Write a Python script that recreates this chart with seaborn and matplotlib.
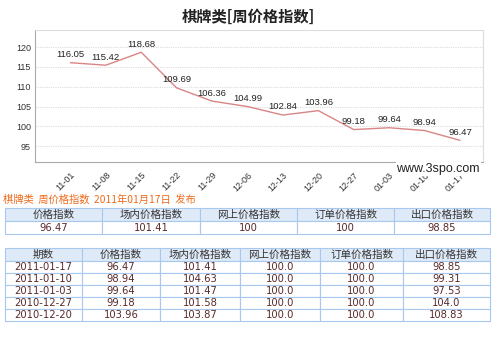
import matplotlib
matplotlib.use("Agg")
import matplotlib.pyplot as plt
import seaborn as sns
import pandas as pd
from matplotlib.patches import Rectangle

sns.set_theme(style="white")
plt.rcParams['font.family'] = ['DejaVu Sans', 'Noto Sans CJK SC']

# ---- data ----
weeks = ["11-01", "11-08", "11-15", "11-22", "11-29", "12-06", "12-13",
         "12-20", "12-27", "01-03", "01-10", "01-17"]
price_index = [116.05, 115.42, 118.68, 109.69, 106.36, 104.99, 102.84,
               103.96, 99.18, 99.64, 98.94, 96.47]
yticks = [95, 100, 105, 110, 115, 120]

title = "棋牌类[周价格指数]"
subtitle = "棋牌类  周价格指数  2011年01月17日  发布"

summary_headers = ["价格指数", "场内价格指数", "网上价格指数", "订单价格指数", "出口价格指数"]
summary_values = ["96.47", "101.41", "100", "100", "98.85"]

hist_headers = ["期数", "价格指数", "场内价格指数", "网上价格指数", "订单价格指数", "出口价格指数"]
hist_dates = ["2011-01-17", "2011-01-10", "2011-01-03", "2010-12-27", "2010-12-20"]
hist_price = ["96.47", "98.94", "99.64", "99.18", "103.96"]
hist_venue = ["101.41", "104.63", "101.47", "101.58", "103.87"]
hist_online = ["100.0", "100.0", "100.0", "100.0", "100.0"]
hist_order = ["100.0", "100.0", "100.0", "100.0", "100.0"]
hist_export = ["98.85", "99.31", "97.53", "104.0", "108.83"]

W, H = 500, 337
fig = plt.figure(figsize=(W / 100, H / 100), dpi=100)
fig.patch.set_facecolor("white")
arial = ['Liberation Sans', 'DejaVu Sans']

# ---- line chart ----
ax = fig.add_axes([35 / W, 1 - 162 / H, (483 - 35) / W, (162 - 30) / H])
df = pd.DataFrame({"x": range(len(weeks)), "y": price_index})
sns.lineplot(data=df, x="x", y="y", ax=ax, color="#d98585", linewidth=1.0)
for i, v in enumerate(price_index):
    ax.text(i, v + 0.9, f"{v:.2f}", ha="center", va="bottom", fontsize=6.8,
            color="#222222", family=arial)
ax.set_xlim(-1, 11.65)
ax.set_ylim(91, 124.3)
ax.set_yticks(yticks)
ax.set_xticks(range(len(weeks)))
ax.set_xticklabels(weeks, rotation=45, ha="right", rotation_mode="anchor")
ax.tick_params(axis="both", labelsize=6.5, colors="#333333", length=0, pad=3)
ax.tick_params(axis="x", pad=6)
for lab in ax.get_xticklabels() + ax.get_yticklabels():
    lab.set_family(arial)
ax.set_xlabel("")
ax.set_ylabel("")
for yt in yticks:
    ax.axhline(yt, color="#dddddd", linestyle=(0, (1, 1)), linewidth=0.8, zorder=0)
for sp in ax.spines.values():
    sp.set_color("#aaaaaa")
    sp.set_linewidth(0.8)
ax.spines["right"].set_color("#dddddd")
ax.spines["top"].set_color("#dddddd")

fig.text(248 / W, 1 - 17 / H, title, ha="center", va="center", fontsize=11,
         fontweight="heavy", color="#222222",
         family=['Noto Sans CJK SC', 'DejaVu Sans'])

# ---- overlay for watermark & tables ----
ov = fig.add_axes([0, 0, 1, 1], zorder=5)
ov.set_xlim(0, W)
ov.set_ylim(H, 0)
ov.axis("off")
ov.patch.set_alpha(0)

ov.text(480, 169, "www.3spo.com", ha="right", va="center", fontsize=9,
        color="#222222", family=arial,
        bbox=dict(facecolor="white", edgecolor="none", pad=0.5))

ov.text(3, 200, subtitle, ha="left", va="center", fontsize=7.4, color="#ee6a1a",
        family=['Noto Sans CJK SC', 'DejaVu Sans'])

border = "#a8c8ee"
head_bg = "#dfeaf8"
cell_txt = "#5a2a2a"
head_txt = "#333333"
cjk = ['DejaVu Sans', 'Noto Sans CJK SC']


def draw_table(xs, row_ys, rows):
    for r, row in enumerate(rows):
        y0, y1 = row_ys[r], row_ys[r + 1]
        for c, val in enumerate(row):
            x0, x1 = xs[c], xs[c + 1]
            ov.add_patch(Rectangle((x0, y0), x1 - x0, y1 - y0,
                                   facecolor=head_bg if r == 0 else "white",
                                   edgecolor=border, linewidth=0.8))
            ov.text((x0 + x1) / 2, (y0 + y1) / 2 + 0.5, val, ha="center",
                    va="center", fontsize=7.6 if r == 0 else 7.2,
                    color=head_txt if r == 0 else cell_txt, family=cjk)


xs1 = [5, 102, 200, 297, 394, 490]
draw_table(xs1, [208, 221, 234], [summary_headers, summary_values])

xs2 = [5, 82, 160, 240, 320, 403, 490]
rows2 = [hist_headers] + [list(r) for r in zip(hist_dates, hist_price, hist_venue,
                                                 hist_online, hist_order, hist_export)]
ys2 = [248, 261, 273, 285, 297, 309, 321]
draw_table(xs2, ys2, rows2)

fig.savefig("out.png", dpi=100, facecolor="white")
